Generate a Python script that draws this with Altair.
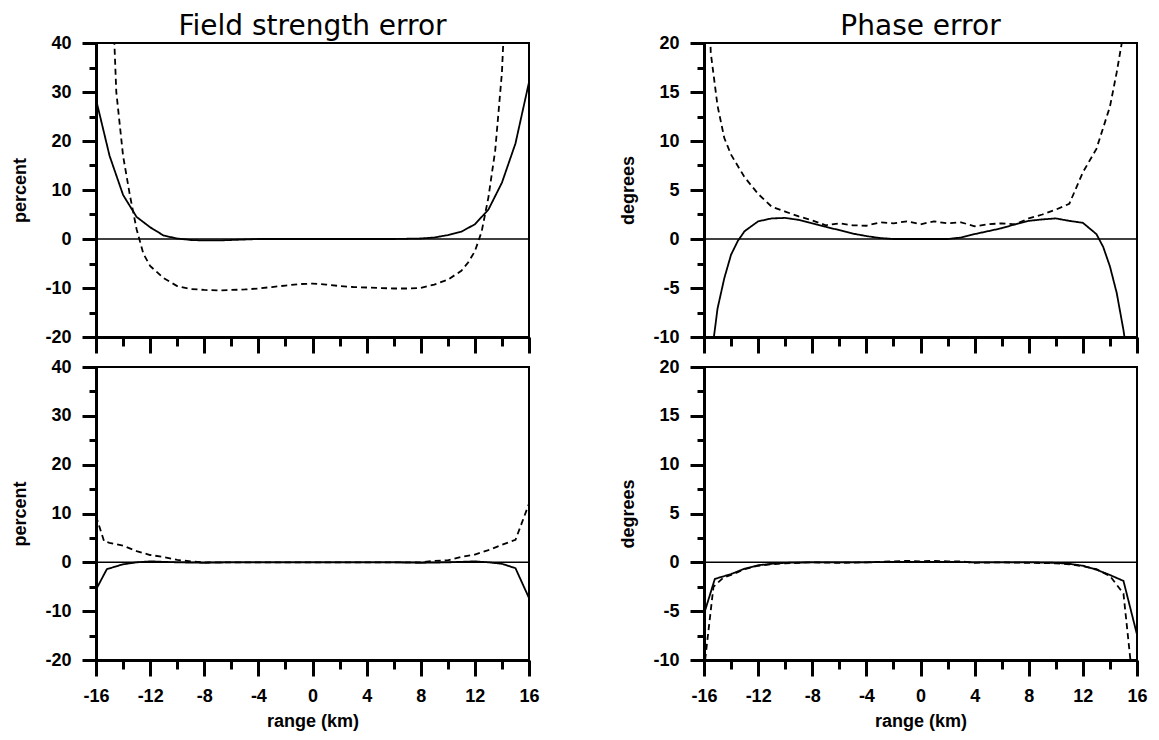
import altair as alt
import pandas as pd

# ---------------- data ----------------
# Field strength error, upper panel
fs_top_solid_x = [-16, -15, -14, -13, -12, -11, -10, -9, -8, -7, -6, -5, -4, -3, -2, -1, 0,
                  1, 2, 3, 4, 5, 6, 7, 8, 9, 10, 11, 12, 13, 14, 15, 16]
fs_top_solid_y = [28.5, 17.0, 9.0, 4.5, 2.4, 0.7, 0.1, -0.2, -0.3, -0.3, -0.2, -0.1, 0.0, 0.0, 0.0, 0.0, 0.0,
                  0.0, 0.0, 0.0, 0.0, 0.0, 0.0, 0.05, 0.1, 0.3, 0.8, 1.5, 3.0, 6.0, 11.5, 19.5, 32.0]
fs_top_dash_x = [-15.5, -15, -14.5, -14, -13.5, -13, -12.5, -12, -11, -10, -9, -8, -7, -6, -5, -4, -3, -2, -1, 0,
                 1, 2, 3, 4, 5, 6, 7, 8, 9, 10, 11, 11.5, 12, 12.5, 13, 13.5, 14, 14.5]
fs_top_dash_y = [100, 65, 30, 17, 9, 2, -3, -5.5, -8, -9.6, -10.2, -10.4, -10.5, -10.4, -10.3, -10.1, -9.8, -9.5, -9.2, -9.1,
                 -9.3, -9.6, -9.8, -9.9, -10.0, -10.1, -10.1, -10.0, -9.3, -8.3, -6.5, -4.8, -2.5, 1.5, 8.5, 18, 34, 65]

# Phase error, upper panel
ph_top_solid_x = [-15.5, -15, -14.5, -14, -13.5, -13, -12, -11, -10, -9, -8, -7, -6, -5, -4, -3, -2, -1, 0,
                  1, 2, 3, 4, 5, 6, 7, 8, 9, 10, 11, 12, 13, 13.5, 14, 14.5, 15, 15.5]
ph_top_solid_y = [-12.5, -7.1, -4.0, -1.6, -0.2, 0.8, 1.8, 2.1, 2.15, 1.95, 1.6, 1.25, 0.9, 0.55, 0.3, 0.1, 0.0, 0.0, 0.0,
                  0.0, 0.0, 0.15, 0.5, 0.8, 1.1, 1.5, 1.85, 2.0, 2.1, 1.85, 1.65, 0.5, -0.8, -2.8, -5.5, -9.3, -14]
ph_top_dash_x = [-16, -15.5, -15, -14.5, -14, -13, -12, -11, -10, -9, -8, -7, -6, -5, -4, -3, -2, -1, 0,
                 1, 2, 3, 4, 5, 6, 7, 8, 9, 10, 11, 12, 13, 14, 14.5, 15, 16]
ph_top_dash_y = [40, 19, 13.6, 10.3, 8.6, 6.3, 4.6, 3.3, 2.8, 2.3, 1.9, 1.4, 1.6, 1.4, 1.35, 1.7, 1.6, 1.8, 1.5,
                 1.8, 1.6, 1.7, 1.3, 1.5, 1.6, 1.5, 2.1, 2.5, 3.0, 3.6, 6.8, 9.2, 13.5, 17, 21, 40]

# Field strength error, lower panel
fs_bot_solid_x = [-16, -15.2, -14, -13, -12, -11, -10, -8, -6, -4, -2, 0, 2, 4, 6, 8, 10, 11, 12, 13, 14, 15, 16]
fs_bot_solid_y = [-5.6, -1.4, -0.4, 0.0, 0.2, 0.1, 0.0, -0.1, 0.0, 0.0, 0.0, 0.0, 0.0, 0.0, 0.0, -0.1, 0.0, 0.1, 0.2,
                  0.0, -0.3, -1.2, -7.3]
fs_bot_dash_x = [-16, -15.4, -15, -14, -13, -12, -11, -10, -9, -8, -6, -4, -2, 0, 2, 4, 6, 8, 9, 10, 11, 12, 13, 14,
                 15, 16]
fs_bot_dash_y = [9.5, 4.3, 4.0, 3.4, 2.3, 1.5, 1.1, 0.5, 0.2, 0.0, 0.0, 0.0, 0.0, 0.0, 0.0, 0.0, 0.0, 0.0, 0.3, 0.4,
                 1.1, 1.6, 2.5, 3.6, 4.6, 12.0]

# Phase error, lower panel
ph_bot_solid_x = [-16, -15.2, -14, -13, -12, -11, -10, -8, -6, -4, -2, 0, 2, 4, 6, 8, 10, 11, 12, 13, 14, 15, 16]
ph_bot_solid_y = [-5.3, -1.7, -1.2, -0.65, -0.3, -0.15, -0.05, 0.0, 0.0, 0.0, 0.05, 0.05, 0.05, 0.0, 0.0, 0.0, -0.05,
                  -0.15, -0.35, -0.75, -1.3, -1.9, -7.4]
ph_bot_dash_x = [-16, -15.3, -14.6, -14, -13, -12, -11, -10, -8, -6, -4, -3, -2, -1, 0, 1, 2, 3, 4, 6, 8, 10, 11, 12,
                 13, 14, 15, 15.5, 16]
ph_bot_dash_y = [-11, -2.5, -1.6, -1.3, -0.7, -0.35, -0.2, -0.1, 0.0, -0.05, 0.0, 0.05, 0.1, 0.15, 0.1, 0.15, 0.1, 0.1,
                 -0.05, 0.0, -0.05, -0.1, -0.2, -0.4, -0.7, -1.4, -3.2, -9.8, -16]

# tick positions
x_major = [-16, -12, -8, -4, 0, 4, 8, 12, 16]
x_minor = [-14, -10, -6, -2, 2, 6, 10, 14]
fs_y_major = [-20, -10, 0, 10, 20, 30, 40]
fs_y_minor = [-15, -5, 5, 15, 25, 35]
ph_y_major = [-10, -5, 0, 5, 10, 15, 20]
ph_y_minor = [-7.5, -2.5, 2.5, 7.5, 12.5, 17.5]

LABEL_FONT = "Liberation Sans"
TITLE_FONT = "DejaVu Sans"


def panel(sx, sy, dx, dy, ydom, ymaj, ymin, ytitle, bottom, height, title=None):
    rows = [{"x": a, "y": b, "s": "solid"} for a, b in zip(sx, sy)]
    rows += [{"x": a, "y": b, "s": "dashed"} for a, b in zip(dx, dy)]
    df = pd.DataFrame(rows)

    xs = alt.Scale(domain=[-16, 16], nice=False, zero=False)
    ys = alt.Scale(domain=ydom, nice=False, zero=False)

    x_axis = alt.Axis(
        values=x_major, orient="bottom",
        labels=bottom,
        labelExpr="'' + datum.value",
        tickSize=16,
        title="range (km)" if bottom else None,
        labelPadding=11, titlePadding=7,
        labelFlush=False, labelOverlap=False,
    )
    y_axis = alt.Axis(
        values=ymaj, orient="left",
        labelExpr="'' + datum.value",
        tickSize=14,
        title=ytitle,
        labelPadding=11, titlePadding=15,
        labelFlush=False, labelOverlap=False,
    )
    x_minor_axis = alt.Axis(values=x_minor, orient="bottom", labels=False, domain=False,
                            tickSize=9, title=None)
    y_minor_axis = alt.Axis(values=ymin, orient="left", labels=False, domain=False,
                            tickSize=7, title=None)

    lines = alt.Chart(df).mark_line(color="black", strokeWidth=1.8, clip=True).encode(
        x=alt.X("x:Q", scale=xs, axis=x_axis),
        y=alt.Y("y:Q", scale=ys, axis=y_axis),
        strokeDash=alt.StrokeDash(
            "s:N",
            scale=alt.Scale(domain=["solid", "dashed"], range=[[1, 0], [6, 4]]),
            legend=None,
        ),
        detail="s:N",
    )
    minor = alt.Chart(df).mark_point(opacity=0, clip=True).encode(
        x=alt.X("x:Q", scale=xs, axis=x_minor_axis),
        y=alt.Y("y:Q", scale=ys, axis=y_minor_axis),
    )
    zero = alt.Chart(pd.DataFrame({"y": [0]})).mark_rule(color="black", strokeWidth=1.5).encode(
        y=alt.Y("y:Q", scale=ys, axis=None)
    )
    ch = alt.layer(zero, minor, lines).resolve_scale(x="independent", y="independent").properties(
        width=433, height=height
    )
    if title:
        ch = ch.properties(title=title)
    return ch


tl = panel(fs_top_solid_x, fs_top_solid_y, fs_top_dash_x, fs_top_dash_y, [-20, 40], fs_y_major, fs_y_minor,
           "percent", False, 294, "Field strength error")
tr = panel(ph_top_solid_x, ph_top_solid_y, ph_top_dash_x, ph_top_dash_y, [-10, 20], ph_y_major, ph_y_minor,
           "degrees", False, 294, "Phase error")
bl = panel(fs_bot_solid_x, fs_bot_solid_y, fs_bot_dash_x, fs_bot_dash_y, [-20, 40], fs_y_major, fs_y_minor,
           "percent", True, 293)
br = panel(ph_bot_solid_x, ph_bot_solid_y, ph_bot_dash_x, ph_bot_dash_y, [-10, 20], ph_y_major, ph_y_minor,
           "degrees", True, 293)

chart = alt.concat(tl, tr, bl, br, columns=2, spacing={"row": 1, "column": 77}).configure_view(
    stroke="black", strokeWidth=2
).configure_axis(
    grid=False,
    domainColor="black",
    domainWidth=3,
    tickColor="black",
    tickWidth=3,
    labelFont=LABEL_FONT,
    labelFontSize=18,
    labelFontWeight="bold",
    labelColor="black",
    titleFont=LABEL_FONT,
    titleFontSize=18,
    titleFontWeight="bold",
    titleColor="black",
).configure_title(
    font=TITLE_FONT, fontSize=28, fontWeight="normal", color="black", anchor="middle", frame="group", offset=-7
).properties(background="white", padding={"left": 2, "top": 4, "right": 0, "bottom": 0})

chart.save("out.html", embed_options={"renderer": "svg", "actions": False})
